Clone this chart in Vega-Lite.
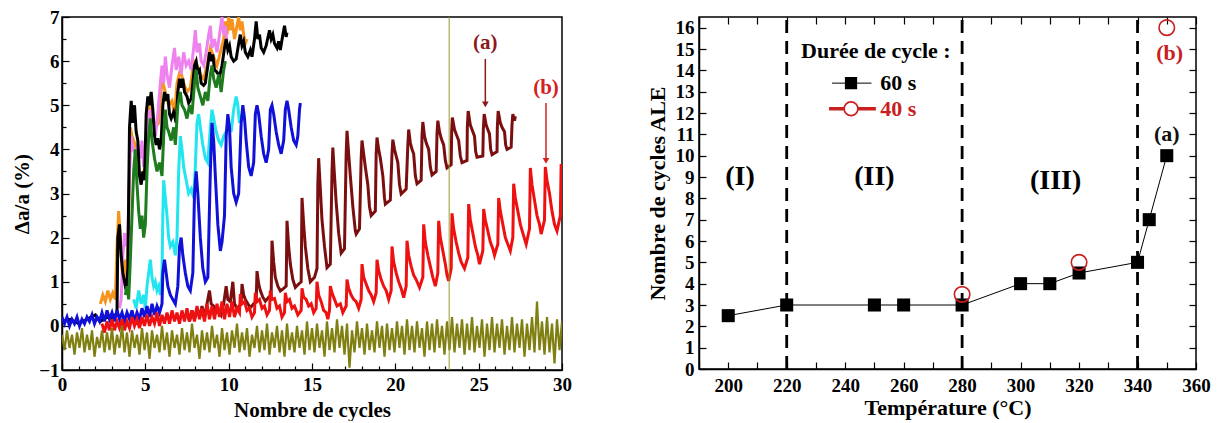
{
"$schema":"https://vega.github.io/schema/vega-lite/v6.json",
"padding":{"left":10,"top":7,"right":5,"bottom":0},
"config":{"font":"Liberation Serif","view":{"stroke":"black","strokeWidth":1.5},
"axis":{"domainColor":"black","domainWidth":1.5,"tickColor":"black","tickWidth":1.2,"labelFont":"Liberation Serif","labelFontWeight":"bold","labelFontSize":19,"labelColor":"black","titleFont":"Liberation Serif","titleFontWeight":"bold","titleFontSize":21,"titleColor":"black","grid":false,"labelOverlap":false,"labelFlush":false},
"text":{"font":"Liberation Serif","fontWeight":"bold"}},
"datasets":{
"or":[{"x":2.3,"y":0.5},{"x":2.45,"y":0.7},{"x":2.6,"y":0.55},{"x":2.75,"y":0.8},{"x":2.9,"y":0.6},{"x":3.05,"y":0.75},{"x":3.2,"y":0.6},{"x":3.3,"y":1.8},{"x":3.4,"y":2.6},{"x":3.5,"y":2.0},{"x":3.6,"y":1.3},{"x":3.7,"y":1.0},{"x":3.8,"y":1.5},{"x":3.9,"y":1.2},{"x":4.0,"y":2.5},{"x":4.1,"y":4.5},{"x":4.2,"y":4.3},{"x":4.4,"y":4.1},{"x":4.6,"y":3.5},{"x":4.8,"y":3.4},{"x":5.0,"y":3.6},{"x":5.2,"y":5.0},{"x":5.4,"y":4.8},{"x":5.6,"y":4.5},{"x":5.8,"y":4.6},{"x":6.0,"y":5.6},{"x":6.2,"y":5.3},{"x":6.4,"y":5.0},{"x":6.6,"y":5.1},{"x":6.75,"y":4.8},{"x":6.9,"y":5.5},{"x":7.1,"y":5.8},{"x":7.3,"y":5.5},{"x":7.5,"y":5.3},{"x":7.7,"y":5.4},{"x":7.9,"y":6.0},{"x":8.1,"y":5.9},{"x":8.3,"y":5.7},{"x":8.5,"y":5.6},{"x":8.7,"y":5.9},{"x":8.9,"y":6.3},{"x":9.1,"y":6.1},{"x":9.3,"y":5.9},{"x":9.5,"y":6.2},{"x":9.7,"y":6.5},{"x":9.8,"y":6.9},{"x":9.9,"y":6.6},{"x":10.0,"y":7.0},{"x":10.1,"y":6.7},{"x":10.2,"y":6.95},{"x":10.35,"y":6.5},{"x":10.5,"y":6.8},{"x":10.6,"y":7.0},{"x":10.7,"y":6.7},{"x":10.8,"y":6.9},{"x":10.9,"y":6.6},{"x":11.0,"y":6.4},{"x":11.1,"y":6.5}],
"vi":[{"x":3.45,"y":0.4},{"x":3.55,"y":0.6},{"x":3.65,"y":1.6},{"x":3.75,"y":2.1},{"x":3.85,"y":1.8},{"x":3.95,"y":2.0},{"x":4.05,"y":3.5},{"x":4.15,"y":4.3},{"x":4.25,"y":4.0},{"x":4.4,"y":3.9},{"x":4.55,"y":4.1},{"x":4.7,"y":3.8},{"x":4.8,"y":4.2},{"x":4.9,"y":3.6},{"x":5.0,"y":3.9},{"x":5.15,"y":4.5},{"x":5.25,"y":4.9},{"x":5.35,"y":4.6},{"x":5.5,"y":4.7},{"x":5.6,"y":4.3},{"x":5.75,"y":4.8},{"x":5.9,"y":5.5},{"x":6.0,"y":5.9},{"x":6.1,"y":5.5},{"x":6.2,"y":6.1},{"x":6.3,"y":5.7},{"x":6.45,"y":5.4},{"x":6.6,"y":5.9},{"x":6.75,"y":6.3},{"x":6.85,"y":5.8},{"x":7.0,"y":6.1},{"x":7.15,"y":5.7},{"x":7.3,"y":6.2},{"x":7.45,"y":5.9},{"x":7.6,"y":6.0},{"x":7.75,"y":5.8},{"x":7.9,"y":6.3},{"x":8.0,"y":6.7},{"x":8.1,"y":6.2},{"x":8.25,"y":6.4},{"x":8.35,"y":6.0},{"x":8.5,"y":5.9},{"x":8.65,"y":6.2},{"x":8.8,"y":6.6},{"x":8.9,"y":6.8},{"x":9.0,"y":6.3},{"x":9.15,"y":6.5},{"x":9.3,"y":6.2},{"x":9.45,"y":6.6},{"x":9.6,"y":7.0},{"x":9.7,"y":6.6},{"x":9.8,"y":6.8},{"x":9.9,"y":6.4}],
"bk":[{"x":0,"y":0.1},{"x":0.5,"y":0.15},{"x":1,"y":0.05},{"x":1.5,"y":0.15},{"x":2,"y":0.25},{"x":2.3,"y":0.1},{"x":2.7,"y":0.2},{"x":3,"y":0.15},{"x":3.3,"y":0.3},{"x":3.35,"y":2.0},{"x":3.45,"y":2.3},{"x":3.55,"y":1.6},{"x":3.65,"y":1.2},{"x":3.75,"y":1.0},{"x":3.85,"y":0.8},{"x":3.95,"y":1.3},{"x":4.05,"y":4.5},{"x":4.15,"y":5.1},{"x":4.25,"y":4.6},{"x":4.35,"y":5.0},{"x":4.45,"y":4.4},{"x":4.55,"y":4.2},{"x":4.65,"y":3.4},{"x":4.75,"y":3.2},{"x":4.85,"y":3.5},{"x":4.95,"y":3.3},{"x":5.05,"y":4.8},{"x":5.15,"y":5.2},{"x":5.25,"y":5.0},{"x":5.35,"y":5.3},{"x":5.45,"y":4.9},{"x":5.55,"y":4.3},{"x":5.65,"y":4.1},{"x":5.75,"y":4.25},{"x":5.85,"y":4.0},{"x":5.95,"y":4.2},{"x":6.05,"y":5.0},{"x":6.15,"y":5.3},{"x":6.25,"y":5.1},{"x":6.35,"y":5.25},{"x":6.45,"y":4.8},{"x":6.55,"y":4.7},{"x":6.7,"y":4.85},{"x":6.85,"y":4.6},{"x":6.95,"y":5.3},{"x":7.05,"y":5.6},{"x":7.15,"y":5.4},{"x":7.25,"y":5.6},{"x":7.35,"y":5.3},{"x":7.5,"y":5.2},{"x":7.6,"y":5.05},{"x":7.75,"y":5.15},{"x":7.85,"y":5.5},{"x":7.95,"y":5.9},{"x":8.05,"y":6.0},{"x":8.15,"y":5.75},{"x":8.25,"y":5.8},{"x":8.35,"y":5.5},{"x":8.5,"y":5.45},{"x":8.6,"y":5.5},{"x":8.75,"y":5.9},{"x":8.85,"y":6.2},{"x":8.95,"y":6.0},{"x":9.05,"y":6.15},{"x":9.15,"y":5.8},{"x":9.3,"y":5.75},{"x":9.45,"y":5.65},{"x":9.6,"y":5.9},{"x":9.75,"y":6.3},{"x":9.85,"y":6.5},{"x":9.95,"y":6.25},{"x":10.05,"y":6.35},{"x":10.15,"y":6.1},{"x":10.3,"y":6.0},{"x":10.45,"y":6.05},{"x":10.6,"y":6.4},{"x":10.7,"y":6.6},{"x":10.8,"y":6.35},{"x":10.9,"y":6.45},{"x":11.0,"y":6.2},{"x":11.15,"y":6.1},{"x":11.3,"y":6.25},{"x":11.4,"y":6.1},{"x":11.55,"y":6.5},{"x":11.65,"y":6.9},{"x":11.75,"y":6.5},{"x":11.85,"y":6.6},{"x":11.95,"y":6.3},{"x":12.1,"y":6.2},{"x":12.25,"y":6.35},{"x":12.45,"y":6.7},{"x":12.55,"y":6.5},{"x":12.65,"y":6.6},{"x":12.75,"y":6.4},{"x":12.9,"y":6.3},{"x":13.0,"y":6.45},{"x":13.1,"y":6.25},{"x":13.25,"y":6.6},{"x":13.35,"y":6.8},{"x":13.45,"y":6.55},{"x":13.5,"y":6.65}],
"gr":[{"x":3.8,"y":0.7},{"x":3.9,"y":0.9},{"x":4.0,"y":0.6},{"x":4.1,"y":1.5},{"x":4.2,"y":2.5},{"x":4.3,"y":3.5},{"x":4.4,"y":4.0},{"x":4.5,"y":3.2},{"x":4.6,"y":2.6},{"x":4.7,"y":2.2},{"x":4.8,"y":2.5},{"x":4.9,"y":2.0},{"x":5.0,"y":2.3},{"x":5.1,"y":3.5},{"x":5.2,"y":4.3},{"x":5.3,"y":4.7},{"x":5.4,"y":4.2},{"x":5.55,"y":3.8},{"x":5.7,"y":3.5},{"x":5.85,"y":3.7},{"x":6.0,"y":3.4},{"x":6.1,"y":4.3},{"x":6.2,"y":4.9},{"x":6.3,"y":4.5},{"x":6.4,"y":4.4},{"x":6.55,"y":4.2},{"x":6.7,"y":4.5},{"x":6.8,"y":4.1},{"x":6.95,"y":5.0},{"x":7.1,"y":5.3},{"x":7.2,"y":5.0},{"x":7.35,"y":4.9},{"x":7.5,"y":4.7},{"x":7.65,"y":5.0},{"x":7.8,"y":4.8},{"x":7.95,"y":5.5},{"x":8.05,"y":5.8},{"x":8.15,"y":5.4},{"x":8.3,"y":5.2},{"x":8.45,"y":5.0},{"x":8.6,"y":5.3},{"x":8.75,"y":5.1},{"x":8.9,"y":5.7},{"x":9.0,"y":5.9},{"x":9.1,"y":5.6},{"x":9.25,"y":5.4},{"x":9.4,"y":5.7},{"x":9.55,"y":5.3},{"x":9.7,"y":5.8},{"x":9.8,"y":6.0}],
"cy":[{"x":4.3,"y":0.6},{"x":4.45,"y":0.4},{"x":4.6,"y":0.8},{"x":4.75,"y":0.5},{"x":4.9,"y":0.7},{"x":5.0,"y":0.4},{"x":5.1,"y":0.9},{"x":5.2,"y":1.2},{"x":5.3,"y":1.5},{"x":5.4,"y":1.1},{"x":5.5,"y":0.9},{"x":5.6,"y":1.0},{"x":5.7,"y":0.8},{"x":5.8,"y":0.9},{"x":5.9,"y":0.7},{"x":6.0,"y":1.2},{"x":6.05,"y":2.5},{"x":6.1,"y":3.3},{"x":6.2,"y":2.9},{"x":6.3,"y":2.5},{"x":6.4,"y":2.0},{"x":6.5,"y":1.8},{"x":6.65,"y":1.9},{"x":6.8,"y":1.6},{"x":6.9,"y":2.0},{"x":7.0,"y":3.5},{"x":7.1,"y":4.3},{"x":7.2,"y":4.0},{"x":7.3,"y":3.6},{"x":7.45,"y":3.3},{"x":7.6,"y":3.0},{"x":7.75,"y":3.1},{"x":7.9,"y":2.9},{"x":8.0,"y":3.6},{"x":8.1,"y":4.6},{"x":8.2,"y":4.8},{"x":8.3,"y":4.5},{"x":8.45,"y":4.1},{"x":8.6,"y":3.8},{"x":8.75,"y":3.7},{"x":8.9,"y":4.5},{"x":9.0,"y":4.9},{"x":9.1,"y":4.7},{"x":9.25,"y":4.4},{"x":9.4,"y":4.2},{"x":9.55,"y":4.1},{"x":9.7,"y":4.3},{"x":9.85,"y":4.4},{"x":10.0,"y":4.6},{"x":10.15,"y":4.4},{"x":10.3,"y":4.9},{"x":10.45,"y":5.2},{"x":10.55,"y":5.0},{"x":10.65,"y":4.6},{"x":10.7,"y":4.8}],
"bl":[{"x":0,"y":0.2},{"x":0.15,"y":0.05},{"x":0.3,"y":0.2},{"x":0.45,"y":0.0},{"x":0.6,"y":0.15},{"x":0.75,"y":0.05},{"x":0.9,"y":0.2},{"x":1.05,"y":0.0},{"x":1.2,"y":0.15},{"x":1.35,"y":0.05},{"x":1.5,"y":0.2},{"x":1.65,"y":0.1},{"x":1.8,"y":0.25},{"x":1.95,"y":0.05},{"x":2.1,"y":0.2},{"x":2.25,"y":0.1},{"x":2.4,"y":0.3},{"x":2.55,"y":0.1},{"x":2.7,"y":0.35},{"x":2.85,"y":0.15},{"x":3.0,"y":0.3},{"x":3.15,"y":0.1},{"x":3.3,"y":0.35},{"x":3.45,"y":0.15},{"x":3.6,"y":0.3},{"x":3.75,"y":0.1},{"x":3.9,"y":0.3},{"x":4.05,"y":0.15},{"x":4.2,"y":0.35},{"x":4.35,"y":0.1},{"x":4.5,"y":0.3},{"x":4.65,"y":0.15},{"x":4.8,"y":0.4},{"x":4.95,"y":0.2},{"x":5.1,"y":0.45},{"x":5.25,"y":0.2},{"x":5.4,"y":0.5},{"x":5.55,"y":0.25},{"x":5.7,"y":0.45},{"x":5.85,"y":0.3},{"x":6.0,"y":0.5},{"x":6.05,"y":1.2},{"x":6.15,"y":1.5},{"x":6.25,"y":1.2},{"x":6.35,"y":0.9},{"x":6.5,"y":0.7},{"x":6.65,"y":0.6},{"x":6.8,"y":0.5},{"x":6.95,"y":0.9},{"x":7.05,"y":1.8},{"x":7.15,"y":2.0},{"x":7.25,"y":1.6},{"x":7.4,"y":1.2},{"x":7.55,"y":0.9},{"x":7.7,"y":0.8},{"x":7.85,"y":1.2},{"x":7.95,"y":3.0},{"x":8.05,"y":3.5},{"x":8.15,"y":3.0},{"x":8.3,"y":2.0},{"x":8.45,"y":1.3},{"x":8.6,"y":1.0},{"x":8.75,"y":1.1},{"x":8.9,"y":3.5},{"x":9.0,"y":4.6},{"x":9.1,"y":4.2},{"x":9.2,"y":3.4},{"x":9.35,"y":2.3},{"x":9.5,"y":1.7},{"x":9.6,"y":1.9},{"x":9.75,"y":2.5},{"x":9.85,"y":4.3},{"x":9.95,"y":4.8},{"x":10.05,"y":4.5},{"x":10.15,"y":3.6},{"x":10.3,"y":3.0},{"x":10.45,"y":2.8},{"x":10.6,"y":3.0},{"x":10.75,"y":4.6},{"x":10.85,"y":5.0},{"x":10.95,"y":4.7},{"x":11.05,"y":4.2},{"x":11.2,"y":3.6},{"x":11.35,"y":3.4},{"x":11.5,"y":3.7},{"x":11.6,"y":4.8},{"x":11.7,"y":5.0},{"x":11.8,"y":4.8},{"x":11.95,"y":4.3},{"x":12.1,"y":3.9},{"x":12.25,"y":3.7},{"x":12.4,"y":4.0},{"x":12.5,"y":4.9},{"x":12.6,"y":5.0},{"x":12.7,"y":4.8},{"x":12.85,"y":4.4},{"x":13.0,"y":4.1},{"x":13.15,"y":3.9},{"x":13.3,"y":4.2},{"x":13.4,"y":4.9},{"x":13.5,"y":5.1},{"x":13.6,"y":4.9},{"x":13.75,"y":4.5},{"x":13.9,"y":4.2},{"x":14.05,"y":4.1},{"x":14.15,"y":4.3},{"x":14.25,"y":4.9},{"x":14.3,"y":5.05}],
"dr":[{"x":7.5,"y":0.3},{"x":7.65,"y":0.1},{"x":7.8,"y":0.35},{"x":7.95,"y":0.15},{"x":8.1,"y":0.4},{"x":8.25,"y":0.2},{"x":8.4,"y":0.45},{"x":8.55,"y":0.2},{"x":8.7,"y":0.5},{"x":8.85,"y":0.8},{"x":8.95,"y":0.5},{"x":9.1,"y":0.45},{"x":9.25,"y":0.3},{"x":9.4,"y":0.35},{"x":9.55,"y":0.25},{"x":9.7,"y":0.5},{"x":9.85,"y":0.9},{"x":9.95,"y":0.6},{"x":10.1,"y":0.55},{"x":10.25,"y":1.0},{"x":10.35,"y":0.5},{"x":10.5,"y":0.4},{"x":10.65,"y":0.45},{"x":10.75,"y":0.5},{"x":10.8,"y":0.95},{"x":10.9,"y":0.7},{"x":11.0,"y":0.6},{"x":11.15,"y":0.5},{"x":11.3,"y":0.41},{"x":11.5,"y":0.5},{"x":11.65,"y":0.55},{"x":11.7,"y":1.24},{"x":11.8,"y":0.95},{"x":11.9,"y":0.8},{"x":12.05,"y":0.65},{"x":12.2,"y":0.56},{"x":12.4,"y":0.65},{"x":12.55,"y":0.7},{"x":12.6,"y":1.93},{"x":12.7,"y":1.45},{"x":12.8,"y":1.1},{"x":12.95,"y":0.9},{"x":13.1,"y":0.79},{"x":13.3,"y":0.85},{"x":13.45,"y":0.9},{"x":13.5,"y":2.38},{"x":13.6,"y":1.8},{"x":13.7,"y":1.4},{"x":13.85,"y":1.05},{"x":14.0,"y":0.87},{"x":14.2,"y":0.95},{"x":14.35,"y":1.0},{"x":14.4,"y":2.9},{"x":14.5,"y":2.3},{"x":14.6,"y":1.8},{"x":14.75,"y":1.3},{"x":14.9,"y":1.0},{"x":15.15,"y":1.1},{"x":15.3,"y":1.3},{"x":15.35,"y":3.2},{"x":15.4,"y":3.8},{"x":15.5,"y":3.1},{"x":15.6,"y":2.4},{"x":15.75,"y":1.8},{"x":15.9,"y":1.32},{"x":16.1,"y":1.4},{"x":16.2,"y":3.5},{"x":16.25,"y":4.04},{"x":16.35,"y":3.4},{"x":16.45,"y":2.8},{"x":16.6,"y":2.1},{"x":16.75,"y":1.65},{"x":16.95,"y":1.75},{"x":17.05,"y":3.9},{"x":17.1,"y":4.42},{"x":17.2,"y":3.9},{"x":17.3,"y":3.4},{"x":17.45,"y":2.7},{"x":17.6,"y":2.15},{"x":17.65,"y":2.08},{"x":17.85,"y":2.2},{"x":17.95,"y":3.8},{"x":18.0,"y":4.2},{"x":18.1,"y":3.9},{"x":18.2,"y":3.6},{"x":18.35,"y":3.2},{"x":18.45,"y":2.7},{"x":18.55,"y":2.5},{"x":18.8,"y":2.6},{"x":18.85,"y":3.9},{"x":18.9,"y":4.27},{"x":19.0,"y":4.0},{"x":19.1,"y":3.8},{"x":19.25,"y":3.4},{"x":19.35,"y":2.9},{"x":19.4,"y":2.76},{"x":19.7,"y":2.85},{"x":19.8,"y":3.9},{"x":19.85,"y":4.22},{"x":19.95,"y":4.0},{"x":20.05,"y":3.85},{"x":20.15,"y":3.7},{"x":20.25,"y":3.2},{"x":20.35,"y":2.99},{"x":20.65,"y":3.1},{"x":20.75,"y":4.1},{"x":20.8,"y":4.45},{"x":20.9,"y":4.15},{"x":21.0,"y":4.0},{"x":21.1,"y":3.9},{"x":21.2,"y":3.4},{"x":21.3,"y":3.22},{"x":21.55,"y":3.3},{"x":21.6,"y":4.3},{"x":21.65,"y":4.62},{"x":21.75,"y":4.3},{"x":21.85,"y":4.15},{"x":22.0,"y":4.0},{"x":22.1,"y":3.6},{"x":22.2,"y":3.42},{"x":22.45,"y":3.5},{"x":22.5,"y":4.35},{"x":22.55,"y":4.65},{"x":22.65,"y":4.4},{"x":22.75,"y":4.25},{"x":22.9,"y":4.1},{"x":23.0,"y":3.75},{"x":23.1,"y":3.58},{"x":23.35,"y":3.65},{"x":23.38,"y":4.4},{"x":23.42,"y":4.72},{"x":23.55,"y":4.45},{"x":23.65,"y":4.35},{"x":23.8,"y":4.2},{"x":23.9,"y":3.85},{"x":24.0,"y":3.7},{"x":24.3,"y":3.75},{"x":24.32,"y":4.5},{"x":24.37,"y":4.87},{"x":24.5,"y":4.55},{"x":24.6,"y":4.45},{"x":24.75,"y":4.3},{"x":24.82,"y":3.95},{"x":24.9,"y":3.82},{"x":25.25,"y":3.85},{"x":25.28,"y":4.45},{"x":25.33,"y":4.8},{"x":25.45,"y":4.55},{"x":25.55,"y":4.45},{"x":25.65,"y":4.35},{"x":25.72,"y":4.0},{"x":25.8,"y":3.88},{"x":26.1,"y":3.95},{"x":26.12,"y":4.5},{"x":26.17,"y":4.87},{"x":26.3,"y":4.6},{"x":26.4,"y":4.5},{"x":26.55,"y":4.4},{"x":26.62,"y":4.1},{"x":26.7,"y":4.0},{"x":26.95,"y":4.05},{"x":27.0,"y":4.55},{"x":27.05,"y":4.8},{"x":27.15,"y":4.65},{"x":27.2,"y":4.75}],
"rd":[{"x":2.4,"y":0.05},{"x":2.55,"y":-0.15},{"x":2.7,"y":0.1},{"x":2.85,"y":-0.1},{"x":3.0,"y":0.15},{"x":3.15,"y":-0.1},{"x":3.3,"y":0.1},{"x":3.45,"y":-0.05},{"x":3.6,"y":0.15},{"x":3.75,"y":-0.1},{"x":3.9,"y":0.1},{"x":4.05,"y":-0.05},{"x":4.2,"y":0.2},{"x":4.35,"y":0.0},{"x":4.5,"y":0.15},{"x":4.65,"y":-0.05},{"x":4.8,"y":0.2},{"x":4.95,"y":0.0},{"x":5.1,"y":0.25},{"x":5.25,"y":0.0},{"x":5.4,"y":0.2},{"x":5.55,"y":0.05},{"x":5.7,"y":0.3},{"x":5.85,"y":0.0},{"x":6.0,"y":0.25},{"x":6.15,"y":0.05},{"x":6.3,"y":0.3},{"x":6.45,"y":0.05},{"x":6.6,"y":0.35},{"x":6.75,"y":0.1},{"x":6.9,"y":0.3},{"x":7.05,"y":0.05},{"x":7.2,"y":0.35},{"x":7.35,"y":0.1},{"x":7.5,"y":0.4},{"x":7.65,"y":0.1},{"x":7.8,"y":0.35},{"x":7.95,"y":0.1},{"x":8.1,"y":0.45},{"x":8.25,"y":0.15},{"x":8.4,"y":0.4},{"x":8.55,"y":0.1},{"x":8.7,"y":0.5},{"x":8.85,"y":0.15},{"x":9.0,"y":0.45},{"x":9.15,"y":0.15},{"x":9.3,"y":0.5},{"x":9.45,"y":0.2},{"x":9.6,"y":0.55},{"x":9.75,"y":0.15},{"x":9.9,"y":0.5},{"x":10.05,"y":0.2},{"x":10.2,"y":0.55},{"x":10.35,"y":0.2},{"x":10.5,"y":0.4},{"x":10.65,"y":0.3},{"x":10.7,"y":0.72},{"x":10.8,"y":0.5},{"x":10.95,"y":0.55},{"x":11.1,"y":0.35},{"x":11.25,"y":0.4},{"x":11.4,"y":0.2},{"x":11.55,"y":0.3},{"x":11.6,"y":0.75},{"x":11.7,"y":0.55},{"x":11.85,"y":0.6},{"x":12.0,"y":0.4},{"x":12.15,"y":0.45},{"x":12.3,"y":0.25},{"x":12.45,"y":0.35},{"x":12.5,"y":0.8},{"x":12.6,"y":0.6},{"x":12.75,"y":0.62},{"x":12.9,"y":0.4},{"x":13.05,"y":0.45},{"x":13.2,"y":0.2},{"x":13.35,"y":0.3},{"x":13.4,"y":0.75},{"x":13.5,"y":0.55},{"x":13.65,"y":0.6},{"x":13.8,"y":0.4},{"x":13.95,"y":0.45},{"x":14.15,"y":0.25},{"x":14.35,"y":0.35},{"x":14.4,"y":0.85},{"x":14.5,"y":0.65},{"x":14.65,"y":0.6},{"x":14.8,"y":0.45},{"x":14.95,"y":0.5},{"x":15.1,"y":0.3},{"x":15.25,"y":0.4},{"x":15.3,"y":1.0},{"x":15.4,"y":0.7},{"x":15.55,"y":0.55},{"x":15.7,"y":0.35},{"x":15.85,"y":0.3},{"x":15.95,"y":0.15},{"x":16.05,"y":0.35},{"x":16.1,"y":0.9},{"x":16.2,"y":0.75},{"x":16.35,"y":0.6},{"x":16.5,"y":0.45},{"x":16.7,"y":0.5},{"x":16.85,"y":0.3},{"x":17.05,"y":0.45},{"x":17.1,"y":1.05},{"x":17.2,"y":0.85},{"x":17.35,"y":0.7},{"x":17.5,"y":0.6},{"x":17.65,"y":0.55},{"x":17.8,"y":0.4},{"x":17.95,"y":0.6},{"x":18.0,"y":1.4},{"x":18.1,"y":1.1},{"x":18.25,"y":0.95},{"x":18.4,"y":0.8},{"x":18.55,"y":0.7},{"x":18.7,"y":0.55},{"x":18.85,"y":0.75},{"x":18.9,"y":1.5},{"x":19.0,"y":1.25},{"x":19.15,"y":1.05},{"x":19.3,"y":0.9},{"x":19.45,"y":0.8},{"x":19.6,"y":0.6},{"x":19.75,"y":0.8},{"x":19.8,"y":1.8},{"x":19.9,"y":1.45},{"x":20.05,"y":1.2},{"x":20.2,"y":1.0},{"x":20.35,"y":0.85},{"x":20.5,"y":0.64},{"x":20.65,"y":0.9},{"x":20.7,"y":1.93},{"x":20.8,"y":1.6},{"x":20.95,"y":1.35},{"x":21.1,"y":1.15},{"x":21.25,"y":1.05},{"x":21.45,"y":0.87},{"x":21.65,"y":1.1},{"x":21.7,"y":2.3},{"x":21.8,"y":1.9},{"x":21.95,"y":1.6},{"x":22.1,"y":1.35},{"x":22.25,"y":1.1},{"x":22.4,"y":0.9},{"x":22.55,"y":1.2},{"x":22.6,"y":2.38},{"x":22.7,"y":2.0},{"x":22.85,"y":1.7},{"x":23.0,"y":1.4},{"x":23.1,"y":1.15},{"x":23.2,"y":1.02},{"x":23.35,"y":1.3},{"x":23.4,"y":2.55},{"x":23.5,"y":2.2},{"x":23.65,"y":1.9},{"x":23.8,"y":1.65},{"x":23.95,"y":1.45},{"x":24.15,"y":1.3},{"x":24.35,"y":1.55},{"x":24.4,"y":2.76},{"x":24.5,"y":2.4},{"x":24.65,"y":2.1},{"x":24.8,"y":1.8},{"x":24.95,"y":1.6},{"x":25.05,"y":1.4},{"x":25.25,"y":1.7},{"x":25.3,"y":2.65},{"x":25.4,"y":2.4},{"x":25.55,"y":2.15},{"x":25.7,"y":1.9},{"x":25.85,"y":1.75},{"x":25.95,"y":1.6},{"x":26.15,"y":1.85},{"x":26.2,"y":2.9},{"x":26.3,"y":2.6},{"x":26.45,"y":2.3},{"x":26.6,"y":2.0},{"x":26.75,"y":1.85},{"x":26.9,"y":1.7},{"x":27.05,"y":2.0},{"x":27.1,"y":3.22},{"x":27.2,"y":2.9},{"x":27.35,"y":2.6},{"x":27.5,"y":2.3},{"x":27.65,"y":2.1},{"x":27.85,"y":1.85},{"x":28.05,"y":2.2},{"x":28.1,"y":3.58},{"x":28.2,"y":3.2},{"x":28.35,"y":2.85},{"x":28.5,"y":2.5},{"x":28.65,"y":2.3},{"x":28.75,"y":2.08},{"x":28.95,"y":2.4},{"x":29.0,"y":3.6},{"x":29.1,"y":3.3},{"x":29.25,"y":3.0},{"x":29.4,"y":2.6},{"x":29.55,"y":2.3},{"x":29.7,"y":2.15},{"x":29.9,"y":2.5},{"x":29.95,"y":3.67},{"x":30.0,"y":3.5}],
"ol":[{"x":0.0,"y":-0.2},{"x":0.15,"y":-0.55},{"x":0.3,"y":-0.1},{"x":0.45,"y":-0.5},{"x":0.6,"y":-0.2},{"x":0.75,"y":-0.65},{"x":0.9,"y":-0.15},{"x":1.05,"y":-0.5},{"x":1.2,"y":-0.05},{"x":1.35,"y":-0.6},{"x":1.5,"y":-0.2},{"x":1.65,"y":-0.55},{"x":1.8,"y":-0.1},{"x":1.95,"y":-0.7},{"x":2.1,"y":-0.25},{"x":2.25,"y":-0.5},{"x":2.4,"y":-0.1},{"x":2.55,"y":-0.6},{"x":2.7,"y":-0.15},{"x":2.85,"y":-0.55},{"x":3.0,"y":-0.05},{"x":3.15,"y":-0.65},{"x":3.3,"y":-0.2},{"x":3.45,"y":-0.5},{"x":3.6,"y":0.0},{"x":3.75,"y":-0.6},{"x":3.9,"y":-0.15},{"x":4.05,"y":-0.7},{"x":4.2,"y":-0.1},{"x":4.35,"y":-0.5},{"x":4.5,"y":-0.2},{"x":4.65,"y":-0.65},{"x":4.8,"y":-0.05},{"x":4.95,"y":-0.55},{"x":5.1,"y":-0.15},{"x":5.25,"y":-0.75},{"x":5.4,"y":-0.1},{"x":5.55,"y":-0.5},{"x":5.7,"y":-0.2},{"x":5.85,"y":-0.6},{"x":6.0,"y":0.0},{"x":6.15,"y":-0.55},{"x":6.3,"y":-0.15},{"x":6.45,"y":-0.7},{"x":6.6,"y":-0.1},{"x":6.75,"y":-0.5},{"x":6.9,"y":-0.2},{"x":7.05,"y":-0.65},{"x":7.2,"y":-0.05},{"x":7.35,"y":-0.55},{"x":7.5,"y":-0.15},{"x":7.65,"y":-0.6},{"x":7.8,"y":0.05},{"x":7.95,"y":-0.5},{"x":8.1,"y":-0.2},{"x":8.25,"y":-0.75},{"x":8.4,"y":-0.1},{"x":8.55,"y":-0.55},{"x":8.7,"y":-0.15},{"x":8.85,"y":-0.6},{"x":9.0,"y":0.0},{"x":9.15,"y":-0.5},{"x":9.3,"y":-0.2},{"x":9.45,"y":-0.7},{"x":9.6,"y":-0.05},{"x":9.75,"y":-0.55},{"x":9.9,"y":-0.15},{"x":10.05,"y":-0.65},{"x":10.2,"y":-0.1},{"x":10.35,"y":-0.5},{"x":10.5,"y":0.05},{"x":10.65,"y":-0.6},{"x":10.8,"y":-0.15},{"x":10.95,"y":-0.55},{"x":11.1,"y":-0.05},{"x":11.25,"y":-0.7},{"x":11.4,"y":-0.2},{"x":11.55,"y":-0.5},{"x":11.7,"y":0.0},{"x":11.85,"y":-0.6},{"x":12.0,"y":-0.1},{"x":12.15,"y":-0.55},{"x":12.3,"y":0.05},{"x":12.45,"y":-0.65},{"x":12.6,"y":-0.15},{"x":12.75,"y":-0.5},{"x":12.9,"y":0.0},{"x":13.05,"y":-0.6},{"x":13.2,"y":-0.1},{"x":13.35,"y":-0.7},{"x":13.5,"y":0.05},{"x":13.65,"y":-0.55},{"x":13.8,"y":-0.15},{"x":13.95,"y":-0.6},{"x":14.1,"y":0.0},{"x":14.25,"y":-0.5},{"x":14.4,"y":-0.1},{"x":14.55,"y":-0.65},{"x":14.7,"y":0.1},{"x":14.85,"y":-0.55},{"x":15.0,"y":-0.05},{"x":15.15,"y":-0.6},{"x":15.3,"y":0.05},{"x":15.45,"y":-0.5},{"x":15.6,"y":-0.1},{"x":15.75,"y":-0.7},{"x":15.9,"y":0.1},{"x":16.05,"y":-0.55},{"x":16.2,"y":-0.05},{"x":16.35,"y":-0.6},{"x":16.5,"y":0.15},{"x":16.65,"y":-0.5},{"x":16.8,"y":0.0},{"x":16.95,"y":-0.65},{"x":17.1,"y":0.05},{"x":17.25,"y":-0.95},{"x":17.4,"y":-0.1},{"x":17.55,"y":-0.6},{"x":17.7,"y":0.1},{"x":17.85,"y":-0.5},{"x":18.0,"y":-0.05},{"x":18.15,"y":-0.65},{"x":18.3,"y":0.05},{"x":18.45,"y":-0.55},{"x":18.6,"y":-0.1},{"x":18.75,"y":-0.6},{"x":18.9,"y":0.1},{"x":19.05,"y":-0.5},{"x":19.2,"y":0.0},{"x":19.35,"y":-0.7},{"x":19.5,"y":0.05},{"x":19.65,"y":-0.55},{"x":19.8,"y":-0.05},{"x":19.95,"y":-0.6},{"x":20.1,"y":0.1},{"x":20.25,"y":-0.5},{"x":20.4,"y":0.0},{"x":20.55,"y":-0.65},{"x":20.7,"y":0.15},{"x":20.85,"y":-0.55},{"x":21.0,"y":0.0},{"x":21.15,"y":-0.6},{"x":21.3,"y":0.1},{"x":21.45,"y":-0.5},{"x":21.6,"y":-0.05},{"x":21.75,"y":-0.7},{"x":21.9,"y":0.1},{"x":22.05,"y":-0.55},{"x":22.2,"y":0.05},{"x":22.35,"y":-0.6},{"x":22.5,"y":0.15},{"x":22.65,"y":-0.5},{"x":22.8,"y":0.0},{"x":22.95,"y":-0.65},{"x":23.1,"y":0.1},{"x":23.25,"y":-0.55},{"x":23.4,"y":0.2},{"x":23.55,"y":-0.6},{"x":23.7,"y":0.05},{"x":23.85,"y":-0.5},{"x":24.0,"y":0.15},{"x":24.15,"y":-0.65},{"x":24.3,"y":0.05},{"x":24.45,"y":-0.55},{"x":24.6,"y":0.2},{"x":24.75,"y":-0.6},{"x":24.9,"y":0.0},{"x":25.05,"y":-0.5},{"x":25.2,"y":0.15},{"x":25.35,"y":-0.7},{"x":25.5,"y":0.05},{"x":25.65,"y":-0.55},{"x":25.8,"y":0.2},{"x":25.95,"y":-0.6},{"x":26.1,"y":0.05},{"x":26.25,"y":-0.5},{"x":26.4,"y":0.15},{"x":26.55,"y":-0.65},{"x":26.7,"y":0.0},{"x":26.85,"y":-0.55},{"x":27.0,"y":0.2},{"x":27.15,"y":-0.6},{"x":27.3,"y":0.05},{"x":27.45,"y":-0.5},{"x":27.6,"y":0.15},{"x":27.75,"y":-0.7},{"x":27.9,"y":0.05},{"x":28.05,"y":-0.55},{"x":28.2,"y":0.2},{"x":28.35,"y":-0.6},{"x":28.5,"y":0.55},{"x":28.65,"y":-0.55},{"x":28.8,"y":0.1},{"x":28.95,"y":-0.65},{"x":29.1,"y":0.2},{"x":29.25,"y":-0.6},{"x":29.4,"y":0.05},{"x":29.55,"y":-0.85},{"x":29.7,"y":0.15},{"x":29.85,"y":-0.55},{"x":30.0,"y":0.1}],
"vline":[{"x":23.23,"y":-1,"y2":7}],
"arrows":[{"x":25.4,"y":6.05,"y2":5.0,"c":"a"},{"x":29.04,"y":5.05,"y2":3.72,"c":"b"}],
"heads":[{"x":25.4,"y":5.02,"c":"a"},{"x":29.04,"y":3.74,"c":"b"}],
"leftlabels":[{"x":25.4,"y":6.4,"t":"(a)","c":"a"},{"x":29.04,"y":5.4,"t":"(b)","c":"b"}],
"sq":[{"T":200,"n":2.5},{"T":220,"n":3},{"T":250,"n":3},{"T":260,"n":3},{"T":280,"n":3},{"T":300,"n":4},{"T":310,"n":4},{"T":320,"n":4.5},{"T":340,"n":5},{"T":344,"n":7},{"T":350,"n":10}],
"ci":[{"T":280,"n":3.5},{"T":320,"n":5},{"T":350,"n":16}],
"dash":[{"T":220,"n":0,"n2":16.5},{"T":280,"n":0,"n2":16.5},{"T":340,"n":0,"n2":16.5}],
"regions":[{"T":204,"n":9,"t":"(I)"},{"T":250,"n":9,"t":"(II)"},{"T":312,"n":8.8,"t":"(III)"}],
"ab":[{"T":350,"n":11,"t":"(a)","c":"black"},{"T":351,"n":14.8,"t":"(b)","c":"red"}],
"legtitle":[{"T":250.5,"n":14.9,"t":"Durée de cycle :"}],
"legline":[{"T":235.5,"T2":249,"n":13.4,"c":"60"},{"T":234.5,"T2":250.5,"n":12.2,"c":"40"}],
"legtext":[{"T":252,"n":13.4,"t":"60 s","c":"60"},{"T":252,"n":12.2,"t":"40 s","c":"40"}],
"legsq":[{"T":242,"n":13.4}],
"legci":[{"T":242,"n":12.2}]
},
"spacing":72,
"hconcat":[
{
"width":500,"height":353,
"encoding":{
 "x":{"field":"x","type":"quantitative","scale":{"domain":[0,30],"nice":false},"axis":{"title":"Nombre de cycles","values":[0,1,2,3,4,5,6,7,8,9,10,11,12,13,14,15,16,17,18,19,20,21,22,23,24,25,26,27,28,29,30],"labelExpr":"datum.value % 5 === 0 ? datum.label : ''","tickSize":{"condition":{"test":"datum.value % 5 === 0","value":-7},"value":-4},"labelPadding":12,"titlePadding":2}},
 "y":{"field":"y","type":"quantitative","scale":{"domain":[-1,7],"nice":false},"axis":{"title":"Δa/a (%)","values":[-1,-0.5,0,0.5,1,1.5,2,2.5,3,3.5,4,4.5,5,5.5,6,6.5,7],"labelExpr":"datum.value % 1 === 0 ? format(datum.value, 'd') : ''","tickSize":{"condition":{"test":"datum.value % 1 === 0","value":-7},"value":-4},"labelPadding":10,"titlePadding":6}}
},
"layer":[
 {"data":{"name":"or"},"mark":{"type":"line","color":"#f7941d","strokeWidth":3,"clip":true}},
 {"data":{"name":"vi"},"mark":{"type":"line","color":"#ee82ee","strokeWidth":3,"clip":true}},
 {"data":{"name":"bk"},"mark":{"type":"line","color":"#000000","strokeWidth":3,"clip":true}},
 {"data":{"name":"gr"},"mark":{"type":"line","color":"#1e7b1e","strokeWidth":3,"clip":true}},
 {"data":{"name":"cy"},"mark":{"type":"line","color":"#22e5f0","strokeWidth":3,"clip":true}},
 {"data":{"name":"bl"},"mark":{"type":"line","color":"#1010d8","strokeWidth":3,"clip":true}},
 {"data":{"name":"dr"},"mark":{"type":"line","color":"#7b0f0f","strokeWidth":3,"clip":true}},
 {"data":{"name":"rd"},"mark":{"type":"line","color":"#ee1111","strokeWidth":3,"clip":true}},
 {"data":{"name":"ol"},"mark":{"type":"line","color":"#7f7f12","strokeWidth":2.2,"clip":true}},
 {"data":{"name":"vline"},"mark":{"type":"rule","color":"#9a9a30","strokeWidth":1},"encoding":{"y2":{"field":"y2"}}},
 {"data":{"name":"arrows"},"transform":[{"filter":"datum.c === 'a'"}],"mark":{"type":"rule","strokeWidth":1.5,"color":"#8b1a1a"},"encoding":{"y2":{"field":"y2"}}},
 {"data":{"name":"arrows"},"transform":[{"filter":"datum.c === 'b'"}],"mark":{"type":"rule","strokeWidth":1.5,"color":"#d42020"},"encoding":{"y2":{"field":"y2"}}},
 {"data":{"name":"heads"},"transform":[{"filter":"datum.c === 'a'"}],"mark":{"type":"point","shape":"triangle-down","filled":true,"size":45,"opacity":1,"color":"#8b1a1a"}},
 {"data":{"name":"heads"},"transform":[{"filter":"datum.c === 'b'"}],"mark":{"type":"point","shape":"triangle-down","filled":true,"size":45,"opacity":1,"color":"#d42020"}},
 {"data":{"name":"leftlabels"},"transform":[{"filter":"datum.c === 'a'"}],"mark":{"type":"text","fontSize":21,"fontWeight":"bold","font":"Liberation Serif","color":"#8b1a1a"},"encoding":{"text":{"field":"t"}}},
 {"data":{"name":"leftlabels"},"transform":[{"filter":"datum.c === 'b'"}],"mark":{"type":"text","fontSize":21,"fontWeight":"bold","font":"Liberation Serif","color":"#d42020"},"encoding":{"text":{"field":"t"}}}
]
},
{
"width":497,"height":352,
"resolve":{"axis":{"x":"independent","y":"independent"}},
"layer":[
 {"data":{"name":"dash"},"mark":{"type":"rule","color":"black","strokeWidth":2.8,"strokeDash":[13,8]},
  "encoding":{"x":{"field":"T","type":"quantitative","scale":{"domain":[190,360],"nice":false},"axis":{"orient":"bottom","title":"Température (°C)","titleFontSize":22,"values":[190,200,210,220,230,240,250,260,270,280,290,300,310,320,330,340,350,360],"labelExpr":"datum.value % 20 === 0 ? datum.label : ''","tickSize":-7,"labelPadding":14,"titlePadding":2}},
   "y":{"field":"n","type":"quantitative","scale":{"domain":[0,16.5],"nice":false},"axis":{"orient":"left","title":"Nombre de cycles ALE","titleFontSize":22,"values":[0,1,2,3,4,5,6,7,8,9,10,11,12,13,14,15,16],"tickSize":-7,"labelPadding":12,"titlePadding":6}},
   "y2":{"field":"n2"}}},
 {"data":{"name":"dash"},"mark":{"type":"rule","opacity":0},
  "encoding":{"x":{"field":"T","type":"quantitative","axis":{"orient":"top","title":null,"labels":false,"values":[190,200,210,220,230,240,250,260,270,280,290,300,310,320,330,340,350,360],"tickSize":-7,"domain":false}},
   "y":{"field":"n","type":"quantitative","axis":{"orient":"right","title":null,"labels":false,"values":[0,1,2,3,4,5,6,7,8,9,10,11,12,13,14,15,16],"tickSize":-7,"domain":false}}}},
 {"data":{"name":"sq"},"mark":{"type":"line","color":"black","strokeWidth":1},"encoding":{"x":{"field":"T","type":"quantitative","axis":null},"y":{"field":"n","type":"quantitative","axis":null}}},
 {"data":{"name":"sq"},"mark":{"type":"point","shape":"square","filled":true,"color":"black","size":170,"opacity":1},"encoding":{"x":{"field":"T","type":"quantitative","axis":null},"y":{"field":"n","type":"quantitative","axis":null}}},
 {"data":{"name":"ci"},"mark":{"type":"point","shape":"circle","filled":false,"color":"#c8201e","strokeWidth":1.6,"size":240,"opacity":1},"encoding":{"x":{"field":"T","type":"quantitative","axis":null},"y":{"field":"n","type":"quantitative","axis":null}}},
 {"data":{"name":"regions"},"mark":{"type":"text","fontSize":28,"fontWeight":"bold","font":"Liberation Serif","color":"black"},"encoding":{"x":{"field":"T","type":"quantitative","axis":null},"y":{"field":"n","type":"quantitative","axis":null},"text":{"field":"t"}}},
 {"data":{"name":"ab"},"transform":[{"filter":"datum.c === 'black'"}],"mark":{"type":"text","fontSize":22,"fontWeight":"bold","font":"Liberation Serif","color":"#111111"},"encoding":{"x":{"field":"T","type":"quantitative","axis":null},"y":{"field":"n","type":"quantitative","axis":null},"text":{"field":"t"}}},
 {"data":{"name":"ab"},"transform":[{"filter":"datum.c === 'red'"}],"mark":{"type":"text","fontSize":22,"fontWeight":"bold","font":"Liberation Serif","color":"#c8201e"},"encoding":{"x":{"field":"T","type":"quantitative","axis":null},"y":{"field":"n","type":"quantitative","axis":null},"text":{"field":"t"}}},
 {"data":{"name":"legtitle"},"mark":{"type":"text","fontSize":22,"fontWeight":"bold","font":"Liberation Serif","color":"black"},"encoding":{"x":{"field":"T","type":"quantitative","axis":null},"y":{"field":"n","type":"quantitative","axis":null},"text":{"field":"t"}}},
 {"data":{"name":"legline"},"transform":[{"filter":"datum.c === '60'"}],"mark":{"type":"rule","color":"black","strokeWidth":1},"encoding":{"x":{"field":"T","type":"quantitative","axis":null},"x2":{"field":"T2"},"y":{"field":"n","type":"quantitative","axis":null}}},
 {"data":{"name":"legline"},"transform":[{"filter":"datum.c === '40'"}],"mark":{"type":"rule","color":"#c8201e","strokeWidth":3.5},"encoding":{"x":{"field":"T","type":"quantitative","axis":null},"x2":{"field":"T2"},"y":{"field":"n","type":"quantitative","axis":null}}},
 {"data":{"name":"legsq"},"mark":{"type":"point","shape":"square","filled":true,"color":"black","size":150,"opacity":1},"encoding":{"x":{"field":"T","type":"quantitative","axis":null},"y":{"field":"n","type":"quantitative","axis":null}}},
 {"data":{"name":"legci"},"mark":{"type":"point","shape":"circle","filled":true,"fill":"white","stroke":"#c8201e","strokeWidth":1.6,"size":190,"opacity":1},"encoding":{"x":{"field":"T","type":"quantitative","axis":null},"y":{"field":"n","type":"quantitative","axis":null}}},
 {"data":{"name":"legtext"},"transform":[{"filter":"datum.c === '60'"}],"mark":{"type":"text","fontSize":22,"fontWeight":"bold","font":"Liberation Serif","align":"left","color":"black"},"encoding":{"x":{"field":"T","type":"quantitative","axis":null},"y":{"field":"n","type":"quantitative","axis":null},"text":{"field":"t"}}},
 {"data":{"name":"legtext"},"transform":[{"filter":"datum.c === '40'"}],"mark":{"type":"text","fontSize":22,"fontWeight":"bold","font":"Liberation Serif","align":"left","color":"#c8201e"},"encoding":{"x":{"field":"T","type":"quantitative","axis":null},"y":{"field":"n","type":"quantitative","axis":null},"text":{"field":"t"}}}
]
}
]
}
